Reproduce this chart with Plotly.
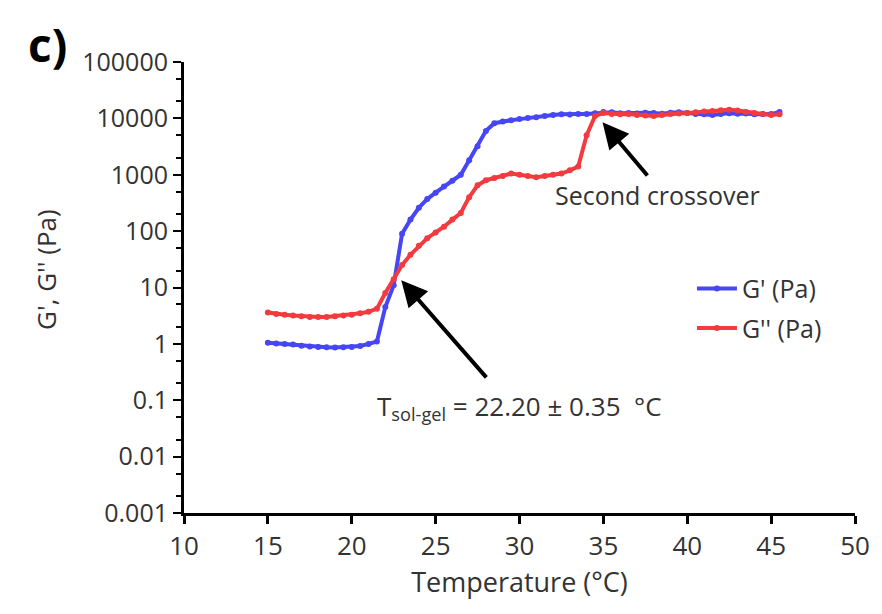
import plotly.graph_objects as go

temperature = [15.0, 15.5, 16.0, 16.5, 17.0, 17.5, 18.0, 18.5, 19.0, 19.5,
               20.0, 20.5, 21.0, 21.5, 22.0, 22.5, 23.0, 23.5, 24.0, 24.5,
               25.0, 25.5, 26.0, 26.5, 27.0, 27.5, 28.0, 28.5, 29.0, 29.5,
               30.0, 30.5, 31.0, 31.5, 32.0, 32.5, 33.0, 33.5, 34.0, 34.5,
               35.0, 35.5, 36.0, 36.5, 37.0, 37.5, 38.0, 38.5, 39.0, 39.5,
               40.0, 40.5, 41.0, 41.5, 42.0, 42.5, 43.0, 43.5, 44.0, 44.5,
               45.0, 45.5]

g_storage = [1.05, 1.02, 1.0, 0.97, 0.93, 0.9, 0.88, 0.87, 0.86, 0.87,
             0.88, 0.92, 1.0, 1.1, 4.5, 11, 90, 160, 260, 370,
             480, 620, 780, 1000, 1800, 3200, 6000, 8200, 8800, 9300,
             9700, 10200, 10500, 11000, 11500, 11800, 11700, 12000, 12000, 12300,
             13000, 12800, 12300, 12500, 12200, 12600, 12400, 12100, 12600, 12800,
             12400, 12000, 11800, 11500, 11900, 12300, 12100, 12200, 11800, 12000,
             11900, 13000]

g_loss = [3.6, 3.4, 3.3, 3.2, 3.1, 3.0, 3.0, 3.0, 3.1, 3.2,
          3.3, 3.5, 3.7, 4.2, 8, 14, 25, 38, 55, 75,
          95, 120, 160, 210, 400, 650, 800, 880, 950, 1050,
          1000, 950, 900, 950, 1000, 1050, 1200, 1400, 5000, 11000,
          12500, 12000, 11800, 12000, 11500, 11200, 11000, 11500, 12000, 12200,
          12500, 12800, 13200, 13500, 14000, 14200, 13800, 13000, 12500, 12000,
          11500, 11800]

y_tick_vals = [0.001, 0.01, 0.1, 1, 10, 100, 1000, 10000, 100000]
y_tick_text = ["0.001", "0.01", "0.1", "1", "10", "100", "1000", "10000", "100000"]
x_tick_vals = [10, 15, 20, 25, 30, 35, 40, 45, 50]

FONT = "Open Sans"
TXT = "#333333"

fig = go.Figure()
fig.add_trace(go.Scatter(x=temperature, y=g_storage, mode="lines+markers", name="G' (Pa)",
                         legendgroup="gp",
                         line=dict(color="#4646F5", width=4),
                         marker=dict(color="#4646F5", size=6)))
fig.add_trace(go.Scatter(x=temperature, y=g_loss, mode="lines+markers", name="G'' (Pa)",
                         legendgroup="gpp",
                         line=dict(color="#F23A3F", width=4),
                         marker=dict(color="#F23A3F", size=6)))

fig.update_layout(
    width=882, height=614,
    margin=dict(l=184, r=22, t=62, b=101),
    plot_bgcolor="white", paper_bgcolor="white",
    font=dict(family=FONT, size=25, color=TXT),
    legend=dict(x=0.757, y=0.548, xanchor="left", yanchor="top",
                bgcolor="rgba(0,0,0,0)", font=dict(size=25, color=TXT),
                itemwidth=40, traceorder="grouped", tracegroupgap=4),
    xaxis=dict(range=[10, 50], tickvals=x_tick_vals, showgrid=False, zeroline=False,
               showline=True, linecolor="black", linewidth=3,
               ticks="outside", ticklen=8, tickwidth=3, tickcolor="black",
               tickfont=dict(size=26, color=TXT),
               title=dict(text="Temperature (°C)", standoff=8,
                          font=dict(size=27, color=TXT))),
    yaxis=dict(type="log", range=[-3, 5], tickvals=y_tick_vals, ticktext=y_tick_text,
               showgrid=False, zeroline=False,
               showline=True, linecolor="black", linewidth=3,
               ticks="outside", ticklen=8, tickwidth=2, tickcolor="black",
               tickfont=dict(size=25, color=TXT),
               minor=dict(ticks="outside", ticklen=5, tickwidth=1.5, tickcolor="black",
                          showgrid=False)),
)

# y-axis title placed to match the reference
fig.add_annotation(xref="paper", yref="paper", x=-0.205, y=0.54, xanchor="center",
                   yanchor="middle", text="G', G'' (Pa)", textangle=-90,
                   showarrow=False, font=dict(size=26, color=TXT))

# arrows
fig.add_annotation(x=22.95, y=1.13, ax=28.1, ay=-0.62, xref="x", yref="y",
                   axref="x", ayref="y", text="", showarrow=True,
                   arrowhead=2, arrowsize=1.3, arrowwidth=4, arrowcolor="black")
fig.add_annotation(x=34.95, y=3.93, ax=37.7, ay=2.96, xref="x", yref="y",
                   axref="x", ayref="y", text="", showarrow=True,
                   arrowhead=2, arrowsize=1.3, arrowwidth=4, arrowcolor="black")

fig.add_annotation(x=38.2, y=2.64, xref="x", yref="y", text="Second crossover",
                   showarrow=False, font=dict(size=25, color=TXT))
fig.add_annotation(x=30.0, y=-1.12, xref="x", yref="y",
                   text="T<sub>sol-gel</sub> = 22.20 ± 0.35  °C",
                   showarrow=False, font=dict(size=26, color=TXT))

fig.add_annotation(xref="paper", yref="paper", x=-0.203, y=1.04, xanchor="center",
                   yanchor="middle", text="<b>c)</b>", showarrow=False,
                   font=dict(size=46, color="black", family=FONT))

fig.write_html("out.html")
